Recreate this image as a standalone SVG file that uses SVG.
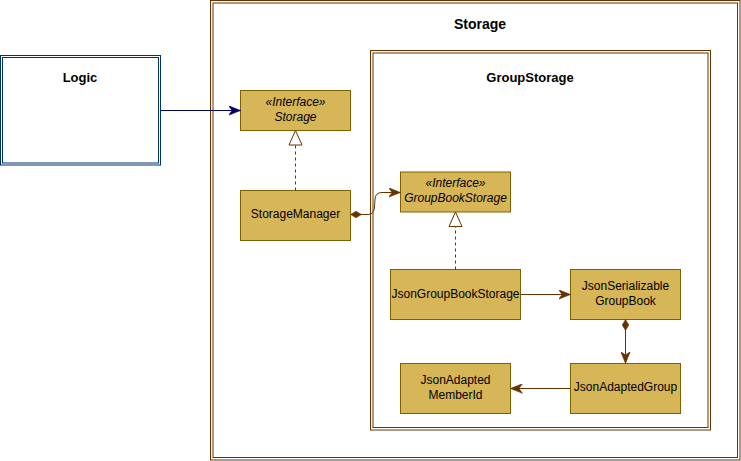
<svg xmlns="http://www.w3.org/2000/svg" width="741" height="461" viewBox="0 0 741 461">
<style>
  .frame { fill: none; stroke: #663300; stroke-width: 1; }
  .logic { fill: none; stroke: #003366; stroke-width: 1; }
  .node { fill: #D6B656; stroke: #806000; stroke-width: 1; }
  .t { font-family: "Liberation Sans", Arial, sans-serif; font-size: 12px; fill: #000; text-anchor: middle; dominant-baseline: central; }
  .it { font-style: italic; }
  .title { font-family: "Liberation Sans", Arial, sans-serif; font-weight: bold; fill: #000; text-anchor: middle; dominant-baseline: central; }
  .edge { fill: none; stroke: #663300; stroke-width: 1; }
  .dash { stroke-dasharray: 3 3; }
</style>
<defs>
  <marker id="arrBrown" markerUnits="userSpaceOnUse" markerWidth="12" markerHeight="10" refX="10" refY="4" orient="auto" viewBox="0 0 10 8">
    <path d="M0,0 L10,4 L0,8 L3,4 z" fill="#663300" stroke="#663300" stroke-width="0.5"/>
  </marker>
  <marker id="arrNavy" markerUnits="userSpaceOnUse" markerWidth="12" markerHeight="10" refX="10" refY="4" orient="auto" viewBox="0 0 10 8">
    <path d="M0,0 L10,4 L0,8 L3,4 z" fill="#000066" stroke="#000066" stroke-width="0.5"/>
  </marker>
  <marker id="diamond" markerUnits="userSpaceOnUse" markerWidth="11" markerHeight="7" refX="0" refY="3" orient="auto" viewBox="0 0 10 6">
    <path d="M0,3 L5,0 L10,3 L5,6 z" fill="#663300" stroke="#663300" stroke-width="0.5"/>
  </marker>
</defs>

<g id="storage-container">
  <rect class="frame" x="210.5" y="0.5" width="529.5" height="459.5"/>
  <rect class="frame" x="213" y="3" width="524.5" height="454.5"/>
  <text class="title" x="480" y="24" font-size="14">Storage</text>
</g>

<g id="groupstorage-container">
  <rect class="frame" x="370.5" y="50.5" width="340" height="379.5"/>
  <rect class="frame" x="373" y="53" width="335" height="374.5"/>
  <text class="title" x="530" y="77" font-size="13">GroupStorage</text>
</g>

<g id="logic">
  <rect class="logic" x="0.5" y="55.5" width="160" height="109.5"/>
  <rect class="logic" x="2.5" y="57.5" width="156" height="105.5"/>
  <text class="title" x="80" y="77" font-size="13">Logic</text>
</g>

<g id="storage-interface">
  <rect class="node" x="240.5" y="90.5" width="110" height="40"/>
  <text class="t it" x="295.5" y="102">«Interface»</text>
  <text class="t it" x="295.5" y="117">Storage</text>
</g>

<g id="storage-manager">
  <rect class="node" x="240.5" y="190.5" width="110" height="50"/>
  <text class="t" x="295.5" y="214">StorageManager</text>
</g>

<g id="groupbookstorage-interface">
  <rect class="node" x="400.5" y="172" width="110" height="40"/>
  <text class="t it" x="455.5" y="183">«Interface»</text>
  <text class="t it" x="455.5" y="198">GroupBookStorage</text>
</g>

<g id="json-groupbook-storage">
  <rect class="node" x="390.5" y="269.5" width="130" height="50"/>
  <text class="t" x="455.5" y="293.5">JsonGroupBookStorage</text>
</g>

<g id="json-serializable-groupbook">
  <rect class="node" x="570.5" y="269.5" width="110" height="50"/>
  <text class="t" x="625.5" y="286">JsonSerializable</text>
  <text class="t" x="625.5" y="301">GroupBook</text>
</g>

<g id="json-adapted-group">
  <rect class="node" x="570.5" y="363.5" width="110" height="50"/>
  <text class="t" x="625.5" y="387">JsonAdaptedGroup</text>
</g>

<g id="json-adapted-memberid">
  <rect class="node" x="400.5" y="363.5" width="110" height="50"/>
  <text class="t" x="455.5" y="380">JsonAdapted</text>
  <text class="t" x="455.5" y="395">MemberId</text>
</g>

<g id="connectors">
  <path d="M160.5,110.5 L240.5,110.5" fill="none" stroke="#000066" stroke-width="1" marker-end="url(#arrNavy)"/>
  <path class="edge dash" d="M295.5,190.5 L295.5,145"/>
  <polygon points="295.5,130.5 302,145 289,145" fill="#fff" stroke="#663300" stroke-width="1"/>
  <path class="edge" d="M350.5,214.5 L368,214.5 Q374,214.5 374.5,207 L375,199 Q375.5,192.5 382,192.5 L400.5,192.5" marker-start="url(#diamond)" marker-end="url(#arrBrown)"/>
  <path class="edge dash" d="M455.5,269.5 L455.5,226.5"/>
  <polygon points="455.5,212 462,226.5 449,226.5" fill="#fff" stroke="#663300" stroke-width="1"/>
  <path class="edge" d="M520.5,294.5 L570.5,294.5" marker-end="url(#arrBrown)"/>
  <path class="edge" d="M625.5,319.5 L625.5,363.5" marker-start="url(#diamond)" marker-end="url(#arrBrown)"/>
  <path class="edge" d="M570.5,388.5 L510.5,388.5" marker-end="url(#arrBrown)"/>
</g>
</svg>
